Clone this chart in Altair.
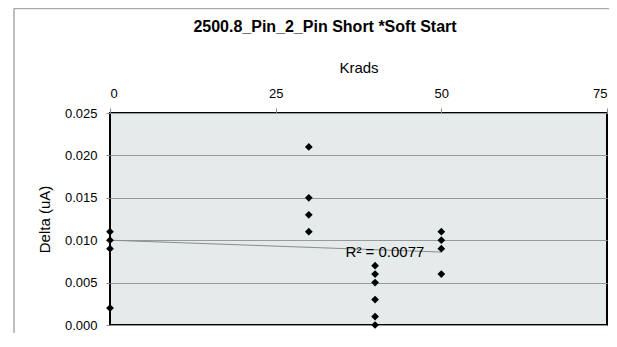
import altair as alt
import pandas as pd

# Scatter data (Krads, Delta uA)
krads = [0, 0, 0, 0,
         30, 30, 30, 30,
         40, 40, 40, 40, 40, 40,
         50, 50, 50, 50]
delta = [0.011, 0.010, 0.009, 0.002,
         0.021, 0.015, 0.013, 0.011,
         0.007, 0.006, 0.005, 0.003, 0.001, 0.000,
         0.011, 0.010, 0.009, 0.006]

# Linear trendline (Excel)
trend_x = [0, 50]
trend_y = [0.0100, 0.0086]

x_ticks = [0, 25, 50, 75]
y_ticks = [0.000, 0.005, 0.010, 0.015, 0.020, 0.025]

title_text = "2500.8_Pin_2_Pin Short *Soft Start"
r2_label = ["R\u00b2 = 0.0077"]
r2_pos = [41.5, 0.0086]

FONT = "Liberation Sans"
W, H = 497, 212

pts = pd.DataFrame({"Krads": krads, "Delta": delta})
trend = pd.DataFrame({"Krads": trend_x, "Delta": trend_y})
r2 = pd.DataFrame({"Krads": [r2_pos[0]], "Delta": [r2_pos[1]], "label": r2_label})
ttl = pd.DataFrame({"t": [title_text]})

xscale = alt.Scale(domain=[0, 75], nice=False, zero=False)
yscale = alt.Scale(domain=[0, 0.025], nice=False)

xaxis = alt.Axis(orient="top", values=x_ticks, grid=False, domain=False,
                 tickSize=5, tickColor="#888888", labelFontSize=13,
                 labelFont=FONT, labelColor="#000000", labelPadding=8,
                 title="Krads", titleFontSize=15, titleFont=FONT,
                 titleFontWeight="normal", titleColor="#000000",
                 titleBaseline="alphabetic", titleY=-41, titleX=W / 2)
yaxis = alt.Axis(values=y_ticks, format=".3f", grid=True, gridColor="#999999",
                 gridWidth=1, domain=False, tickSize=4, tickColor="#888888",
                 labelFontSize=13, labelFont=FONT, labelColor="#000000",
                 labelPadding=9, title="Delta (uA)", titleFontSize=15,
                 titleFont=FONT, titleFontWeight="normal", titleColor="#000000",
                 titleBaseline="alphabetic", titleX=-61)

BC = "#AAAAAA"
b_top = alt.Chart(ttl).mark_rule(color=BC, strokeWidth=1.5).encode(
    x=alt.value(-96), x2=alt.value(510), y=alt.value(-104.5))
b_left = alt.Chart(ttl).mark_rule(color=BC, strokeWidth=1.5).encode(
    x=alt.value(-96), y=alt.value(-104.5), y2=alt.value(232))

line = alt.Chart(trend).mark_line(color="#8a8a8a", strokeWidth=1).encode(
    x=alt.X("Krads:Q", scale=xscale, axis=xaxis),
    y=alt.Y("Delta:Q", scale=yscale, axis=yaxis),
)

points = alt.Chart(pts).mark_point(shape="diamond", filled=True, color="#000000",
                                   size=60, opacity=1).encode(
    x=alt.X("Krads:Q", scale=xscale),
    y=alt.Y("Delta:Q", scale=yscale),
)

r2text = alt.Chart(r2).mark_text(font=FONT, fontSize=15, color="#000000",
                                 baseline="middle", align="center").encode(
    x=alt.X("Krads:Q", scale=xscale),
    y=alt.Y("Delta:Q", scale=yscale),
    text="label:N",
)

title = alt.Chart(ttl).mark_text(font=FONT, fontSize=16, fontWeight="bold",
                                 color="#000000", baseline="alphabetic",
                                 align="center").encode(
    x=alt.value(215), y=alt.value(-81), text="t:N"
)

chart = alt.layer(b_top, b_left, line, points, r2text, title).properties(
    width=W, height=H,
    background="#FFFFFF",
    autosize=alt.AutoSizeParams(type="none"),
    padding={"left": 102, "top": 105, "right": 2, "bottom": 8},
).configure_view(
    fill="#E5EAEA", stroke="#000000", strokeWidth=2
)

chart.save("out.html", embed_options={"renderer": "svg", "actions": False})
